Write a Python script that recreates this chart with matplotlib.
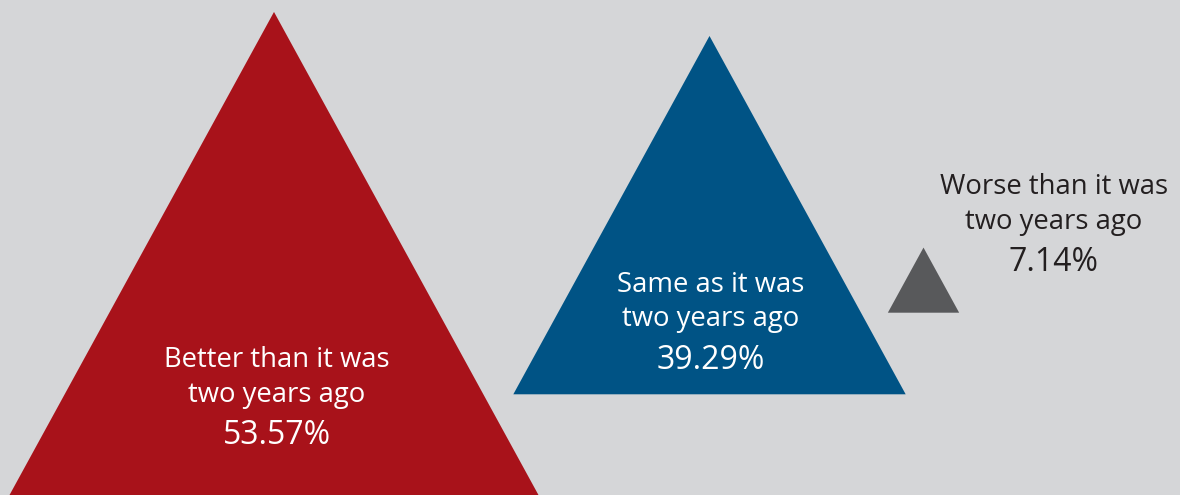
import matplotlib
matplotlib.use("Agg")
import matplotlib.pyplot as plt
from matplotlib.patches import Polygon

# Survey responses
categories = ["Better than it was\ntwo years ago",
              "Same as it was\ntwo years ago",
              "Worse than it was\ntwo years ago"]
values = [53.57, 39.29, 7.14]
colors = ["#a8121a", "#005385", "#58595b"]
label_colors = ["white", "white", "#231f20"]

# Layout (pixel coordinates, y grows downward)
centers_x = [274, 709.5, 923.5]
base_y = [500.5, 394.3, 312.7]
px_per_pct = 9.12
aspect = 1.095  # base width / height

# Text anchors: centre x and baseline of the first label line
text_x = [277, 711, 1054]
text_y = [367.3, 291.7, 194.3]
line_step = 34.5
pct_offset = 77.0

W, H = 1180, 495
plt.rcParams["font.family"] = ["Open Sans", "DejaVu Sans"]
fig = plt.figure(figsize=(W / 100, H / 100), dpi=100)
fig.patch.set_facecolor("#d5d6d8")
ax = fig.add_axes([0, 0, 1, 1])
ax.set_xlim(0, W)
ax.set_ylim(H, 0)
ax.axis("off")

# Triangles whose height scales with each share
for cx, by, v, c in zip(centers_x, base_y, values, colors):
    h = v * px_per_pct
    half = h * aspect / 2
    tri = Polygon([(cx - half, by), (cx + half, by), (cx, by - h)],
                  closed=True, facecolor=c, edgecolor="none")
    ax.add_patch(tri)

# Category labels and percentages
for tx, ty, cat, v, tc in zip(text_x, text_y, categories, values, label_colors):
    for i, line in enumerate(cat.split("\n")):
        ax.text(tx, ty + i * line_step, line, ha="center", va="baseline",
                fontsize=19.8, color=tc)
    ax.text(tx, ty + pct_offset, f"{v:.2f}%", ha="center", va="baseline",
            fontsize=23, color=tc)

fig.savefig("out.png", dpi=100, facecolor=fig.get_facecolor())
